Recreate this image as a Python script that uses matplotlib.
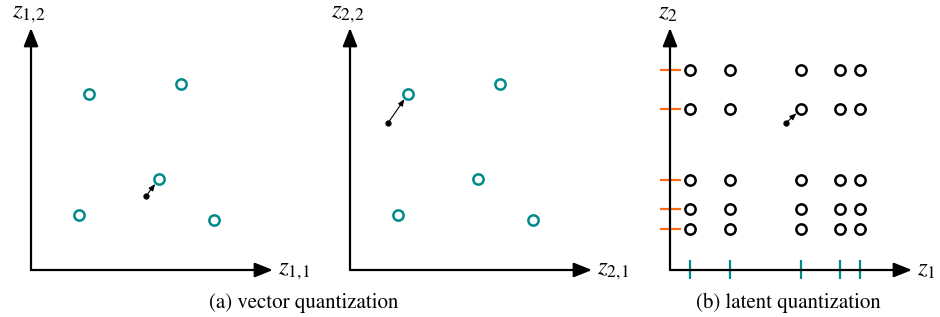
import matplotlib
matplotlib.use("Agg")
import matplotlib.pyplot as plt

plt.rcParams["mathtext.fontset"] = "stix"
plt.rcParams["font.family"] = ["STIXGeneral", "DejaVu Serif"]

TEAL   = "#008b8b"
ORANGE = "#ff6a13"

# vector quantization codebook (same in both panels), in pixel units from origin
code_x = [58, 150, 128, 48, 183]
code_y = [176, 186, 91, 55, 50]

# encoder outputs and their nearest codebook entry
vq1_point  = (115, 74)
vq1_target = (128, 91)
vq2_point  = (38, 147)
vq2_target = (58, 176)

# latent quantization: per-dimension codebooks
lq_x = [20, 60, 131, 170, 190]
lq_y = [41, 61, 90, 161, 200]
lq_point  = (116, 147)
lq_target = (131, 161)

W, H = 940, 317
AXIS_LEN = 242
origins = [(31, 270), (350, 270), (670, 270)]
labels = [(r"$z_{1,\!1}$", r"$z_{1,\!2}$"),
          (r"$z_{2,\!1}$", r"$z_{2,\!2}$"),
          (r"$z_1$", r"$z_2$")]

fig = plt.figure(figsize=(W / 100, H / 100), dpi=100)
axes = []
for ox, oy in origins:
    ax = fig.add_axes([0, 0, 1, 1])
    ax.set_xlim(-ox, W - ox)
    ax.set_ylim(-(H - oy), oy)
    ax.axis("off")
    ax.patch.set_alpha(0)
    axes.append(ax)


def draw_axes(ax, xlab, ylab):
    kw = dict(arrowstyle="-|>,head_length=0.55,head_width=0.22", color="black",
              lw=1.6, mutation_scale=20, shrinkA=0, shrinkB=0)
    ax.annotate("", xy=(AXIS_LEN, 0), xytext=(0, 0), arrowprops=kw)
    ax.annotate("", xy=(0, AXIS_LEN), xytext=(0, 0), arrowprops=kw)
    ax.text(AXIS_LEN + 5, 0, xlab, fontsize=18, ha="left", va="center")
    ax.text(-2, AXIS_LEN + 15, ylab, fontsize=18, ha="center", va="center")


def draw_step(ax, p, t):
    ax.plot([p[0]], [p[1]], "o", color="black", ms=3.5, zorder=4)
    ax.annotate("", xy=t, xytext=p,
                arrowprops=dict(arrowstyle="-|>,head_length=0.5,head_width=0.2",
                                color="black", lw=0.8, mutation_scale=8,
                                shrinkA=0, shrinkB=4.5), zorder=3)


for ax, (xl, yl) in zip(axes, labels):
    draw_axes(ax, xl, yl)

circ = dict(marker="o", ls="none", ms=7.4, mfc="white", mew=1.8, zorder=5)

# (a) vector quantization
axes[0].plot(code_x, code_y, mec=TEAL, **circ)
draw_step(axes[0], vq1_point, vq1_target)
axes[1].plot(code_x, code_y, mec=TEAL, **circ)
draw_step(axes[1], vq2_point, vq2_target)

# (b) latent quantization
ax3 = axes[2]
for x in lq_x:
    ax3.plot([x, x], [-9, 10], color=TEAL, lw=1.6, solid_capstyle="butt")
for y in lq_y:
    ax3.plot([-10, 11], [y, y], color=ORANGE, lw=1.6, solid_capstyle="butt")
gx = [x for y in lq_y for x in lq_x]
gy = [y for y in lq_y for x in lq_x]
ax3.plot(gx, gy, mec="black", **circ)
draw_step(ax3, lq_point, lq_target)

fig.text(304 / W, 1 - 303 / H, "(a) vector quantization", fontsize=15,
         ha="center", va="center")
fig.text(788 / W, 1 - 303 / H, "(b) latent quantization", fontsize=15,
         ha="center", va="center")

fig.savefig("out.png", dpi=100)
